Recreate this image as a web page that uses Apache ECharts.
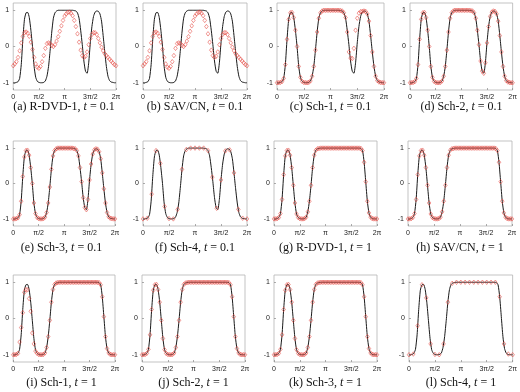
<!DOCTYPE html>
<html>
<head>
<meta charset="utf-8">
<script src="https://cdn.jsdelivr.net/npm/echarts@6/dist/echarts.min.js"></script>
<style>
  html, body { margin: 0; padding: 0; background: #fff; }
  #chart { width: 520px; height: 392px; }
</style>
</head>
<body>
<div id="chart"></div>
<script>
// tick positions / labels
const xTicks = [0, Math.PI / 2, Math.PI, 3 * Math.PI / 2, 2 * Math.PI];
const xTickLabels = ['0', 'π/2', 'π', '3π/2', '2π'];
const yTicks = [-1, 0, 1];

// reference solution, t = 0.1 (65 points on [0, 2π])
const exact01 = [
  -1, -1, -0.99, -0.97, -0.88, -0.5, 0.2, 0.75, 0.93, 0.94, 0.8, 0.45, 0, -0.55, -0.85, -0.96,
  -0.99, -1, -1, -0.99, -0.95, -0.82, -0.55, -0.1, 0.4, 0.78, 0.93, 0.98, 1, 1, 1, 1,
  1, 1, 1, 1, 1, 1, 0.99, 0.98, 0.93, 0.78, 0.45, 0.05, -0.4, -0.68, -0.74, -0.45,
  0.1, 0.55, 0.83, 0.95, 0.98, 0.97, 0.9, 0.7, 0.3, -0.15, -0.55, -0.82, -0.94, -0.98,
  -0.99, -1, -1
];

// reference solution, t = 1
const exact1 = [
  -1, -1, -0.99, -0.96, -0.85, -0.45, 0.25, 0.78, 0.93, 0.94, 0.8, 0.45, -0.05, -0.55, -0.86, -0.96,
  -0.99, -1, -1, -0.99, -0.95, -0.8, -0.5, -0.05, 0.45, 0.8, 0.94, 0.98, 0.99, 1, 1, 1,
  1, 1, 1, 1, 1, 1, 1, 1, 1, 1, 1, 1, 1, 1, 1, 1,
  1, 1, 1, 1, 1, 1, 0.99, 0.93, 0.6, 0.05, -0.5, -0.83, -0.95, -0.99,
  -1, -1, -1
];

// numerical solutions
const markRdvdSav01 = [
  -0.53, -0.48, -0.42, -0.3, -0.12, 0.1, 0.28, 0.38, 0.4, 0.37, 0.28, 0.12, -0.08, -0.3, -0.48, -0.57,
  -0.6, -0.55, -0.42, -0.25, -0.05, 0.08, 0.1, 0.08, 0.03, 0, 0.05, 0.15, 0.27, 0.42, 0.57, 0.72,
  0.84, 0.9, 0.94, 0.95, 0.92, 0.85, 0.72, 0.55, 0.35, 0.12, -0.1, -0.25, -0.3, -0.27, -0.15, 0.05,
  0.22, 0.33, 0.38, 0.38, 0.33, 0.22, 0.1, -0.02, -0.12, -0.2, -0.25, -0.3, -0.35, -0.4,
  -0.45, -0.5, -0.53
];

const markSch1_01 = [
  -1, -1, -0.99, -0.97, -0.88, -0.5, 0.2, 0.75, 0.93, 0.94, 0.8, 0.45, 0, -0.55, -0.85, -0.96,
  -0.99, -1, -1, -0.99, -0.95, -0.82, -0.55, -0.1, 0.4, 0.78, 0.93, 0.98, 1, 1, 1, 1,
  1, 1, 1, 1, 1, 1, 0.99, 0.98, 0.93, 0.8, 0.4, -0.15, -0.32, -0.33, -0.05, 0.45,
  0.78, 0.92, 0.96, 0.97, 0.98, 0.97, 0.9, 0.7, 0.3, -0.15, -0.55, -0.82, -0.94, -0.98,
  -0.99, -1, -1
];

const markSch4_01 = [
  -1, -0.98, -0.3, 0.93, 0.57, -0.65, -0.99, -1, -0.73, 0.4, 0.96, 1, 1,
  1, 1, 0.93, 0.18, -0.7, 0.1, 0.92, 0.95, 0.3, -0.73, -0.98, -1
];

const markSch1_1 = [
  -1, -1, -0.99, -0.96, -0.65, -0.25, 0.16, 0.72, 0.8, 0.79, 0.55, 0.2, -0.4, -0.7, -0.9, -0.96,
  -0.99, -1, -1, -0.99, -0.95, -0.8, -0.5, -0.05, 0.45, 0.8, 0.94, 0.98, 0.99, 1, 1, 1,
  1, 1, 1, 1, 1, 1, 1, 1, 1, 1, 1, 1, 1, 1, 1, 1,
  1, 1, 1, 1, 1, 1, 0.99, 0.93, 0.6, 0.05, -0.5, -0.83, -0.95, -0.99,
  -1, -1, -1
];

const markSch4_1 = [
  -1, -0.98, -0.2, 0.93, 0.57, -0.7, -0.99, -1, -0.7, 0.45, 0.97, 1, 1,
  1, 1, 1, 1, 1, 1, 1, 1, 0.6, -0.7, -0.98, -1
];

const captionTags = ['a', 'b', 'c', 'd', 'e', 'f', 'g', 'h', 'i', 'j', 'k', 'l'];
const methods = ['R-DVD-1', 'SAV/CN', 'Sch-1', 'Sch-2', 'Sch-3', 'Sch-4',
                 'R-DVD-1', 'SAV/CN', 'Sch-1', 'Sch-2', 'Sch-3', 'Sch-4'];
const times = ['0.1', '0.1', '0.1', '0.1', '0.1', '0.1', '1', '1', '1', '1', '1', '1'];
const exactFor = [exact01, exact01, exact01, exact01, exact01, exact01,
                  exact1, exact1, exact1, exact1, exact1, exact1];
const marksFor = [markRdvdSav01, markRdvdSav01, markSch1_01, exact01, exact01, markSch4_01,
                  exact1, exact1, markSch1_1, exact1, exact1, markSch4_1];

// plot boxes: left, top, right, bottom
const boxes = [
  [12, 3, 116, 90], [143, 3, 247, 90], [277, 3, 384, 90], [410, 3, 513, 90],
  [8, 141, 115, 226], [143, 141, 247, 226], [274, 141, 377, 226], [408, 141, 512, 226],
  [8, 275, 115, 362], [142, 275, 245, 362], [274, 275, 377, 362], [409, 275, 513, 362]
];
const captionY = [107, 248, 383];

function toPairs(arr) {
  const n = arr.length - 1;
  return arr.map((v, j) => [j * 2 * Math.PI / n, v]);
}

const grid = [], xAxis = [], yAxis = [], series = [], graphic = [];

boxes.forEach((b, i) => {
  grid.push({
    left: b[0], top: b[1], width: b[2] - b[0], height: b[3] - b[1],
    show: true, borderColor: '#b4b4b4', borderWidth: 0.8, backgroundColor: '#fff'
  });
  xAxis.push({
    gridIndex: i, type: 'value', min: 0, max: 2 * Math.PI, position: 'bottom',
    axisLine: { show: false, onZero: false },
    splitLine: { show: false },
    axisTick: { show: true, inside: true, length: 2, customValues: xTicks,
                lineStyle: { color: '#888', width: 0.7 } },
    axisLabel: {
      customValues: xTicks, fontSize: 7, margin: 4, color: '#222',
      fontFamily: 'Liberation Sans',
      formatter: v => {
        const k = xTicks.findIndex(t => Math.abs(t - v) < 1e-6);
        return k >= 0 ? xTickLabels[k] : '';
      }
    }
  });
  yAxis.push({
    gridIndex: i, type: 'value', min: -1.2, max: 1.2, position: 'left',
    axisLine: { show: false, onZero: false },
    splitLine: { show: false },
    axisTick: { show: true, inside: true, length: 2, customValues: yTicks,
                lineStyle: { color: '#888', width: 0.7 } },
    axisLabel: { customValues: yTicks, fontSize: 7, margin: 4, color: '#222',
                 fontFamily: 'Liberation Sans' }
  });
  series.push({
    type: 'line', xAxisIndex: i, yAxisIndex: i,
    data: toPairs(exactFor[i]), showSymbol: false, smooth: 0.2,
    lineStyle: { color: '#1a1a1a', width: 1 }, z: 2
  });
  series.push({
    type: 'scatter', xAxisIndex: i, yAxisIndex: i,
    data: toPairs(marksFor[i]), symbol: 'diamond', symbolSize: [3.5, 4.5],
    itemStyle: { color: 'rgba(0,0,0,0)', borderColor: '#e5463f', borderWidth: 0.7 }, z: 3
  });
  graphic.push({
    type: 'text', x: (b[0] + b[2]) / 2, y: captionY[Math.floor(i / 4)],
    style: {
      text: '{n|(' + captionTags[i] + ') ' + methods[i] + ', }{t|t}{n| = ' + times[i] + '}',
      align: 'center', verticalAlign: 'middle',
      rich: {
        n: { fontFamily: 'Liberation Serif', fontSize: 12, fill: '#111' },
        t: { fontFamily: 'Liberation Serif', fontSize: 12, fontStyle: 'italic', fill: '#111' }
      }
    }
  });
});

const chart = echarts.init(document.getElementById('chart'));
chart.setOption({
  animation: false,
  grid: grid,
  xAxis: xAxis,
  yAxis: yAxis,
  series: series,
  graphic: graphic
});
</script>
</body>
</html>
